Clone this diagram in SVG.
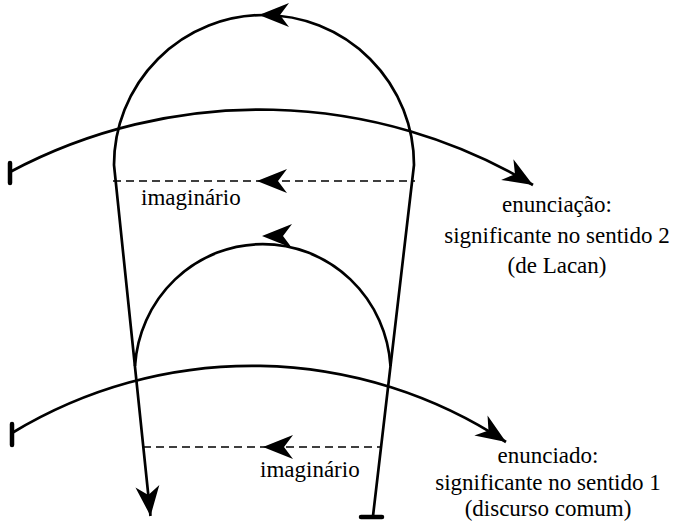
<svg xmlns="http://www.w3.org/2000/svg" width="675" height="526" viewBox="0 0 675 526">
<defs>
<style>
.ln{fill:none;stroke:#000;stroke-width:2.7}
.ds{fill:none;stroke:#000;stroke-width:1.7;stroke-dasharray:8 5}
.bar{stroke:#000;stroke-width:4.5;stroke-linecap:round}
.t{font-family:"Liberation Serif","Times New Roman",serif;font-size:23px;fill:#000}
</style>
<path id="head" d="M0,0 L-30,-12 L-21,0 L-30,12 Z" fill="#000"/>
<marker id="ah" markerUnits="userSpaceOnUse" viewBox="-32 -14 34 28" refX="0" refY="0" markerWidth="34" markerHeight="28" orient="auto">
<path d="M0,0 L-30,-12 L-21,0 L-30,12 Z" fill="#000"/>
</marker>
</defs>
<rect width="675" height="526" fill="#fff"/>
<g id="connectors">
<path id="loop-outer" class="ln" d="M373,516 L414,165 A150 150 0 0 0 114,165 L150.5,516" marker-end="url(#ah)"/>
<path id="loop-inner" class="ln" d="M390.5,366 A128 130 0 0 0 135,366"/>
<path id="arc-top" class="ln" d="M10,172 A532 532 0 0 1 533,185" marker-end="url(#ah)"/>
<path id="arc-bottom" class="ln" d="M12,433 A462 462 0 0 1 506,442" marker-end="url(#ah)"/>
<path id="dash-top" class="ds" d="M113,181 L415,181"/>
<path id="dash-bottom" class="ds" d="M143,447 L381,447"/>
<use href="#head" transform="translate(259,15) rotate(180)"/>
<use href="#head" transform="translate(262,236) rotate(180)"/>
<use href="#head" transform="translate(257,181) rotate(180)"/>
<use href="#head" transform="translate(263,447) rotate(180)"/>
<line class="bar" x1="10" y1="163" x2="10" y2="183"/>
<line class="bar" x1="12" y1="424" x2="12" y2="445"/>
<line class="bar" x1="361" y1="517" x2="382" y2="517"/>
</g>
<g id="label-imaginario-1"><text class="t" x="141" y="205">imaginário</text></g>
<g id="label-imaginario-2"><text class="t" x="260" y="477">imaginário</text></g>
<g id="label-enunciacao">
<text class="t" text-anchor="middle" x="557" y="212">enunciação:</text>
<text class="t" text-anchor="middle" x="557" y="243">significante no sentido 2</text>
<text class="t" text-anchor="middle" x="557" y="273">(de Lacan)</text>
</g>
<g id="label-enunciado">
<text class="t" text-anchor="middle" x="548" y="463">enunciado:</text>
<text class="t" text-anchor="middle" x="548" y="490">significante no sentido 1</text>
<text class="t" text-anchor="middle" x="548" y="516">(discurso comum)</text>
</g>
</svg>
